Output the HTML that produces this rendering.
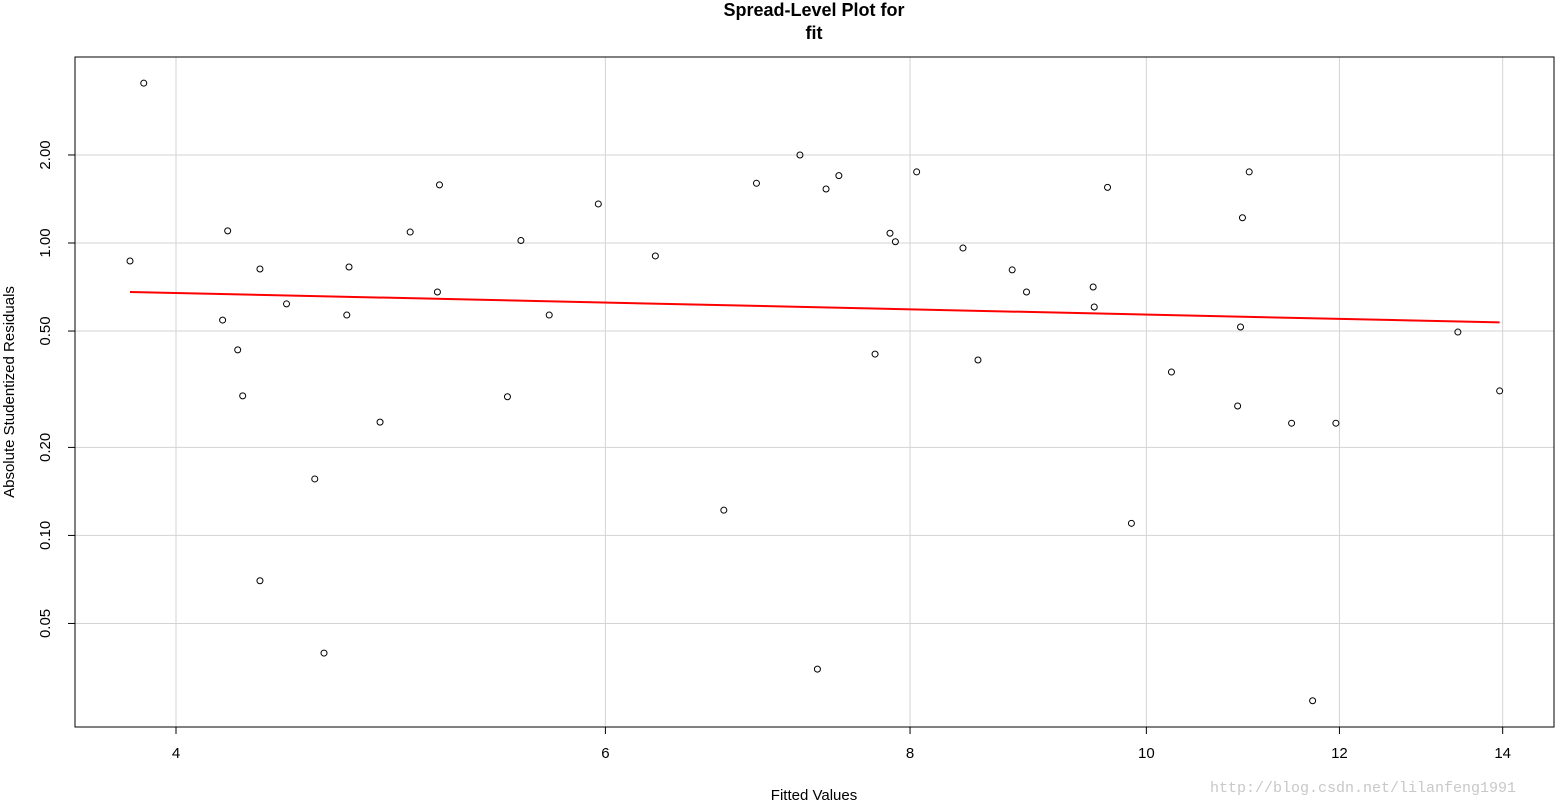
<!DOCTYPE html>
<html><head><meta charset="utf-8"><style>
body{margin:0;background:#fff;}
svg{display:block;font-family:"Liberation Sans",sans-serif;}
</style></head><body>
<svg id="chart" width="1562" height="805">
<text x="814" y="16" text-anchor="middle" font-size="18" font-weight="bold">Spread-Level Plot for</text>
<text x="814" y="39" text-anchor="middle" font-size="18" font-weight="bold">fit</text>
<text x="814" y="800" text-anchor="middle" font-size="15">Fitted Values</text>
<text transform="translate(14,392) rotate(-90)" text-anchor="middle" font-size="15">Absolute Studentized Residuals</text>
<text x="1210" y="792" font-size="15" fill="#c8c8c8" font-family="Liberation Mono,monospace">http://blog.csdn.net/lilanfeng1991</text>
<g id="grid"></g><g id="axes"></g><g id="fit"></g><g id="pts"></g>
<rect x="75" y="57" width="1479" height="670" fill="none" stroke="#000"/>
</svg>
<script>
const xTicks=[4,6,8,10,12,14];
const yTicks=[0.05,0.10,0.20,0.50,1.00,2.00];
const yTickLabels=["0.05","0.10","0.20","0.50","1.00","2.00"];
const xVals=[3.83,3.88,4.18,4.20,4.24,4.26,4.33,4.33,4.44,4.56,4.60,4.70,4.71,4.85,4.99,5.12,5.13,5.47,5.54,5.69,5.96,6.29,6.71,6.92,7.21,7.33,7.39,7.48,7.74,7.85,7.89,8.05,8.41,8.53,8.81,8.93,9.51,9.52,9.64,9.86,10.24,10.90,10.93,10.95,11.02,11.47,11.70,11.96,13.42,13.96];
const yVals=[0.868,3.52,0.545,1.10,0.431,0.300,0.815,0.070,0.619,0.156,0.0396,0.567,0.828,0.244,1.09,0.680,1.58,0.298,1.02,0.567,1.36,0.903,0.122,1.60,2.00,0.0349,1.53,1.70,0.417,1.08,1.01,1.75,0.961,0.398,0.809,0.680,0.707,0.604,1.55,0.110,0.362,0.277,0.516,1.22,1.75,0.242,0.0272,0.242,0.496,0.312];
const fitX=[3.83,13.96];
const fitY=[0.68,0.535];
const NS="http://www.w3.org/2000/svg";
const sx=v=>176+1059*Math.log(v/4);
const sy=v=>243-127*Math.log(v);
function mk(tag,attrs,parent,text){const e=document.createElementNS(NS,tag);for(const k in attrs)e.setAttribute(k,attrs[k]);if(text!==undefined)e.textContent=text;document.getElementById(parent).appendChild(e);return e;}
xTicks.forEach(t=>{const x=sx(t);
 let g=mk('line',{x1:x,x2:x,y1:57,y2:727,stroke:'#d3d3d3'},'grid');
 
 
 let tk=mk('line',{x1:x,x2:x,y1:727,y2:734,stroke:'#000'},'axes');
 
 
 let lb=mk('text',{x:x,y:758,'text-anchor':'middle','font-size':15},'axes',String(t));
 
 
});
yTicks.forEach((t,i)=>{const y=sy(t);
 let g=mk('line',{x1:75,x2:1554,y1:y,y2:y,stroke:'#d3d3d3'},'grid');
 
 
 let tk=mk('line',{x1:68,x2:75,y1:y,y2:y,stroke:'#000'},'axes');
 
 
 let lb=mk('text',{transform:`translate(50,${y}) rotate(-90)`,'text-anchor':'middle','font-size':15},'axes',yTickLabels[i]);
 
 
});
let fl=mk('line',{x1:sx(fitX[0]),y1:sy(fitY[0]),x2:sx(fitX[1]),y2:sy(fitY[1]),stroke:'#ff0000','stroke-width':2},'fit');


xVals.forEach((v,i)=>{
 let c=mk('circle',{cx:sx(v),cy:sy(yVals[i]),r:3,fill:'none',stroke:'#000','stroke-width':1},'pts');
 
 
});
</script>
</body></html>
